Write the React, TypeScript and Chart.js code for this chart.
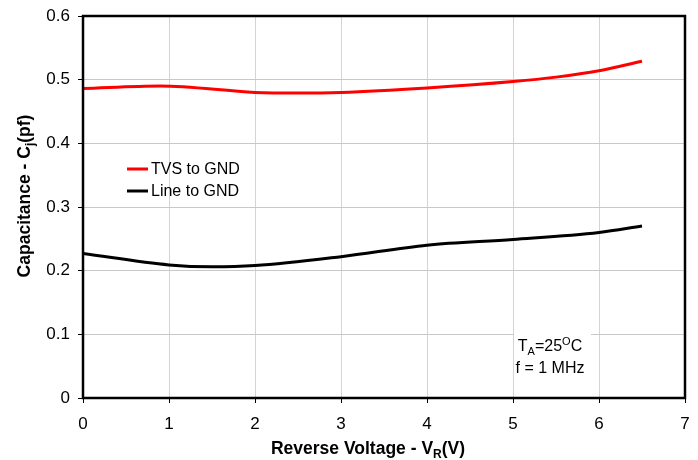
import React, { useEffect, useRef } from "react";
import { Chart, registerables } from "chart.js";

Chart.register(...registerables);

const voltage = [0, 0.9, 2, 2.5, 3, 4, 5, 5.5, 6, 6.5];
const tvsToGnd = [0.486, 0.49, 0.48, 0.479, 0.48, 0.487, 0.497, 0.504, 0.514, 0.529];
const lineVoltage = [0, 1, 1.5, 2, 3, 4, 5, 6, 6.5];
const lineToGnd = [0.227, 0.209, 0.206, 0.208, 0.222, 0.24, 0.249, 0.26, 0.27];
const xTicks = [0, 1, 2, 3, 4, 5, 6, 7];
const yTicks = [0, 0.1, 0.2, 0.3, 0.4, 0.5, 0.6];

const FONT = "Arial, 'Liberation Sans', sans-serif";

function drawSub(ctx: CanvasRenderingContext2D, parts: { t: string; mode: "n" | "sub" | "sup" }[], x: number, y: number, size: number, bold: boolean, align: "center" | "left") {
  const w = (p: { t: string; mode: string }) => {
    ctx.font = `${bold ? "bold " : ""}${p.mode === "n" ? size : Math.round(size * 0.7)}px ${FONT}`;
    return ctx.measureText(p.t).width;
  };
  const total = parts.reduce((s, p) => s + w(p), 0);
  let cx = align === "center" ? x - total / 2 : x;
  ctx.textAlign = "left";
  ctx.textBaseline = "alphabetic";
  for (const p of parts) {
    const ww = w(p);
    const dy = p.mode === "sub" ? size * 0.25 : p.mode === "sup" ? -size * 0.4 : 0;
    ctx.fillText(p.t, cx, y + dy);
    cx += ww;
  }
}

const decor = {
  id: "decor",
  afterDraw(chart: any) {
    const ctx: CanvasRenderingContext2D = chart.ctx;
    const a = chart.chartArea;
    ctx.save();
    ctx.fillStyle = "#000";
    // axis titles
    drawSub(ctx, [{ t: "Reverse Voltage - V", mode: "n" }, { t: "R", mode: "sub" }, { t: "(V)", mode: "n" }], 368, 454, 17.5, true, "center");
    ctx.save();
    ctx.translate(30, 196);
    ctx.rotate(-Math.PI / 2);
    drawSub(ctx, [{ t: "Capacitance - C", mode: "n" }, { t: "j", mode: "sub" }, { t: "(pf)", mode: "n" }], 0, 0, 17.5, true, "center");
    ctx.restore();
    // legend
    const ds = chart.data.datasets;
    ds.forEach((d: any, i: number) => {
      const y = 169 + i * 22;
      ctx.strokeStyle = d.borderColor;
      ctx.lineWidth = 3;
      ctx.beginPath();
      ctx.moveTo(127, y);
      ctx.lineTo(148, y);
      ctx.stroke();
      ctx.fillStyle = "#000";
      ctx.font = `16px ${FONT}`;
      ctx.textAlign = "left";
      ctx.textBaseline = "middle";
      ctx.fillText(d.label, 151, y + 1);
    });
    // annotation
    ctx.fillStyle = "#fff";
    ctx.fillRect(514, 326, 77, 54);
    ctx.fillStyle = "#000";
    drawSub(ctx, [{ t: "T", mode: "n" }, { t: "A", mode: "sub" }, { t: "=25", mode: "n" }, { t: "O", mode: "sup" }, { t: "C", mode: "n" }], 550, 351, 16, false, "center");
    drawSub(ctx, [{ t: "f = 1 MHz", mode: "n" }], 550, 373, 16, false, "center");
    // border
    ctx.strokeStyle = "#000";
    ctx.lineWidth = 2.5;
    ctx.strokeRect(a.left, a.top, a.right - a.left, a.bottom - a.top);
    ctx.restore();
  },
};

export default function App() {
  const ref = useRef<HTMLCanvasElement>(null);
  useEffect(() => {
    document.body.style.margin = "0";
    const chart = new Chart(ref.current!, {
      type: "line",
      data: {
        datasets: [
          {
            label: "TVS to GND",
            data: voltage.map((v, i) => ({ x: v, y: tvsToGnd[i] })),
            borderColor: "#ff0000",
            borderWidth: 3,
            pointRadius: 0,
            cubicInterpolationMode: "monotone",
          },
          {
            label: "Line to GND",
            data: lineVoltage.map((v, i) => ({ x: v, y: lineToGnd[i] })),
            borderColor: "#000000",
            borderWidth: 3,
            pointRadius: 0,
            cubicInterpolationMode: "monotone",
          },
        ],
      },
      options: {
        animation: false,
        responsive: false,
        maintainAspectRatio: false,
        layout: { padding: { top: 16, right: 13, left: 0, bottom: 0 } },
        plugins: { legend: { display: false }, tooltip: { enabled: false } },
        scales: {
          x: {
            type: "linear",
            min: 0,
            max: 7,
            afterBuildTicks: (s: any) => { s.ticks = xTicks.map((v) => ({ value: v })); },
            afterFit: (s: any) => { s.height = 62; s.paddingLeft = 0; s.paddingRight = 0; },
            grid: { color: "#d4d4d4", lineWidth: 1, tickColor: "#000", tickLength: 5 },
            border: { display: false },
            ticks: { color: "#000", font: { family: FONT, size: 17 }, padding: 11, maxRotation: 0 },
          },
          y: {
            type: "linear",
            min: 0,
            max: 0.6,
            afterBuildTicks: (s: any) => { s.ticks = yTicks.map((v) => ({ value: v })); },
            afterFit: (s: any) => { s.width = 83; s.paddingTop = 0; s.paddingBottom = 0; },
            grid: { color: "#c8c8c8", lineWidth: 1, tickColor: "#000", tickLength: 5 },
            border: { display: false },
            ticks: { color: "#000", font: { family: FONT, size: 17 }, padding: 8, callback: (v: any) => String(Math.round(v * 10) / 10) },
          },
        },
      },
      plugins: [decor],
    });
    return () => chart.destroy();
  }, []);
  return (
    <div style={{ width: 698, height: 460 }}>
      <canvas ref={ref} width={698} height={460} style={{ display: "block" }} />
    </div>
  );
}
